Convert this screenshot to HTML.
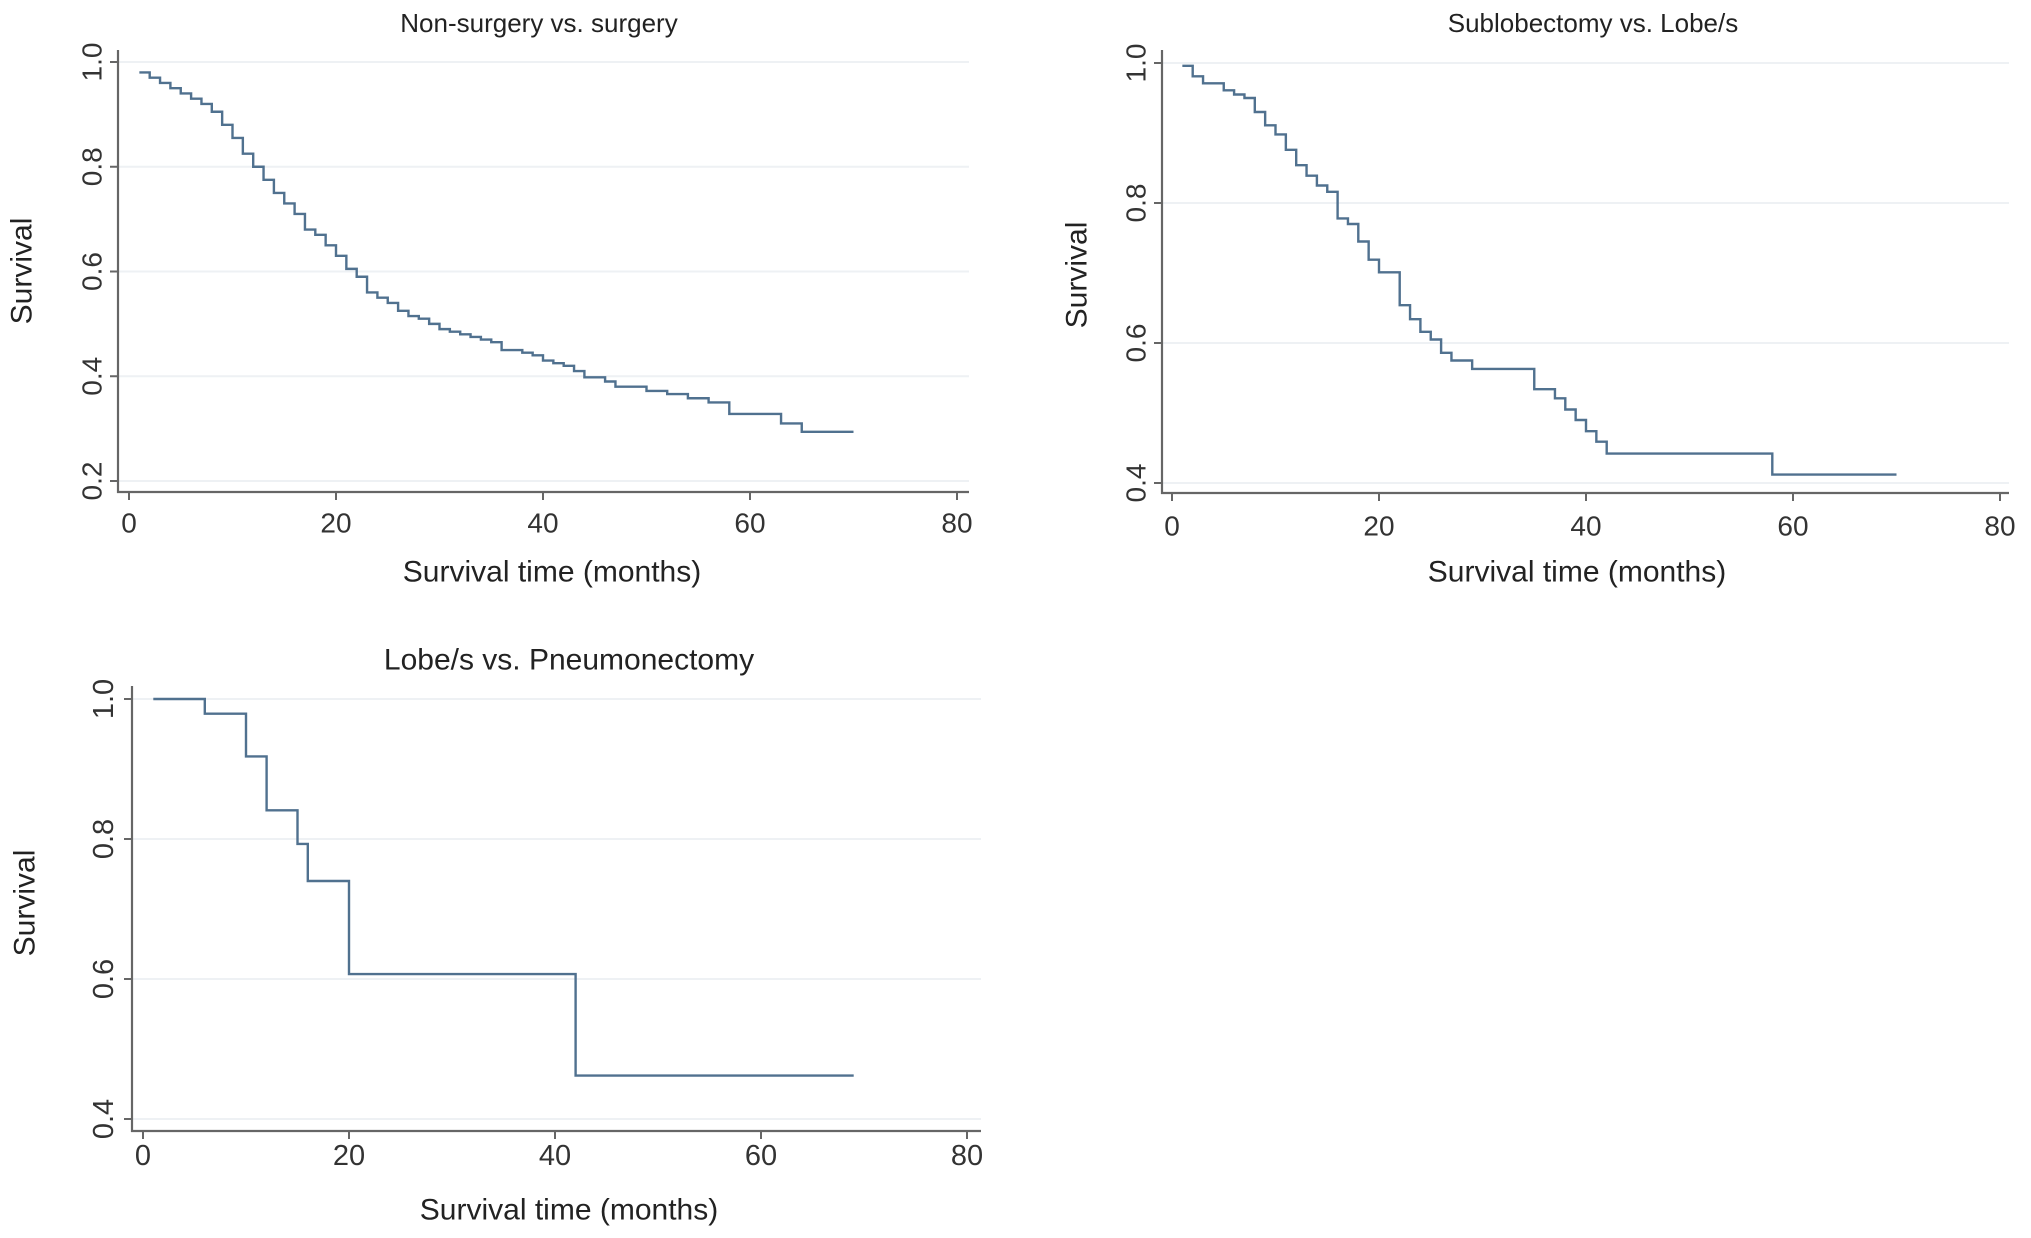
<!DOCTYPE html>
<html><head><meta charset="utf-8"><style>
html,body{margin:0;padding:0;background:#fff;}
svg{display:block;font-family:"Liberation Sans",Arial,sans-serif;}
</style></head><body>
<svg id="fig" width="2031" height="1238" viewBox="0 0 2031 1238"></svg>
<script>
// Panel 1: Non-surgery vs. surgery
const p1Times = [1,2,3,4,5,6,7,8,9,10,11,12,13,14,15,16,17,18,19,20,21,22,23,24,25,26,27,28,29,30,31,32,33,34,35,36,38,39,40,41,42,43,44,46,47,50,52,54,56,58,63,65,70];
const p1Surv  = [0.98,0.97,0.96,0.95,0.94,0.93,0.92,0.905,0.88,0.855,0.825,0.80,0.775,0.75,0.73,0.71,0.68,0.67,0.65,0.63,0.605,0.59,0.56,0.55,0.54,0.525,0.515,0.51,0.50,0.49,0.485,0.48,0.475,0.47,0.465,0.45,0.445,0.44,0.43,0.425,0.42,0.41,0.398,0.39,0.38,0.372,0.366,0.358,0.35,0.328,0.31,0.294,0.294];
const p1YTicks = [0.2,0.4,0.6,0.8,1.0];
// Panel 2: Sublobectomy vs. Lobe/s
const p2Times = [1,2,3,5,6,7,8,9,10,11,12,13,14,15,16,17,18,19,20,22,23,24,25,26,27,29,35,37,38,39,40,41,42,58,70];
const p2Surv  = [0.996,0.981,0.971,0.961,0.955,0.950,0.930,0.911,0.898,0.876,0.854,0.839,0.825,0.816,0.778,0.770,0.745,0.719,0.701,0.654,0.634,0.616,0.605,0.586,0.575,0.563,0.534,0.521,0.505,0.490,0.474,0.459,0.442,0.412,0.412];
const p2YTicks = [0.4,0.6,0.8,1.0];
// Panel 3: Lobe/s vs. Pneumonectomy
const p3Times = [1,6,10,12,15,16,20,42,69];
const p3Surv  = [1.0,0.979,0.918,0.841,0.793,0.740,0.607,0.462,0.462];
const p3YTicks = [0.4,0.6,0.8,1.0];
const xTicks = [0,20,40,60,80];

const NS='http://www.w3.org/2000/svg';
const svg=document.getElementById('fig');
function mk(tag,attrs,parent){const e=document.createElementNS(NS,tag);for(const k in attrs)e.setAttribute(k,attrs[k]);(parent||svg).appendChild(e);return e;}

function panel(cfg){
  const g=mk('g',{});
  
  
  const sx=v=>cfg.x0+(v-0)*(cfg.x80-cfg.x0)/80;
  const sy=v=>cfg.yTop+(cfg.vTop-v)*(cfg.yBot-cfg.yTop)/(cfg.vTop-cfg.vBot);
  cfg.yTicks.forEach(t=>{
    const l=mk('line',{x1:cfg.axX,x2:cfg.right,y1:sy(t),y2:sy(t),stroke:'#eef1f4','stroke-width':2},g);
    
    
  });
  const ya=mk('line',{x1:cfg.axX,x2:cfg.axX,y1:cfg.axTop,y2:cfg.axY+1,stroke:'#666','stroke-width':2.2},g);
  
  
  const xa=mk('line',{x1:cfg.axX-1,x2:cfg.right,y1:cfg.axY,y2:cfg.axY,stroke:'#666','stroke-width':2.2},g);
  
  
  cfg.yTicks.forEach(t=>{
    mk('line',{x1:cfg.axX-8,x2:cfg.axX,y1:sy(t),y2:sy(t),stroke:'#666','stroke-width':2},g);
    const tx=mk('text',{x:0,y:0,transform:`translate(${cfg.ylabX},${sy(t)}) rotate(-90)`,'text-anchor':'middle','dominant-baseline':'central','font-size':cfg.tickFs,fill:'#333'},g);
    tx.textContent=t.toFixed(1);
    
    
  });
  xTicks.forEach(t=>{
    mk('line',{x1:sx(t),x2:sx(t),y1:cfg.axY,y2:cfg.axY+8,stroke:'#666','stroke-width':2},g);
    const tx=mk('text',{x:sx(t),y:cfg.xlabY,'text-anchor':'middle','dominant-baseline':'central','font-size':cfg.tickFs,fill:'#333'},g);
    tx.textContent=t;
    
    
  });
  let d=`M${sx(cfg.times[0])},${sy(cfg.surv[0])}`;
  for(let i=1;i<cfg.times.length;i++){
    d+=` H${sx(cfg.times[i])} V${sy(cfg.surv[i])}`;
  }
  const p=mk('path',{d:d,fill:'none',stroke:'#50718f','stroke-width':2.4},g);
  
  
  const ti=mk('text',{x:cfg.titleX,y:cfg.titleY,'text-anchor':'middle','dominant-baseline':'central','font-size':cfg.titleFs,fill:'#222'},g);
  ti.textContent=cfg.title;
  
  
  const xt=mk('text',{x:cfg.xtX,y:cfg.xtY,'text-anchor':'middle','dominant-baseline':'central','font-size':30,fill:'#222'},g);
  xt.textContent='Survival time (months)';
  
  
  const yt=mk('text',{x:0,y:0,transform:`translate(${cfg.ytX},${cfg.ytY}) rotate(-90)`,'text-anchor':'middle','dominant-baseline':'central','font-size':30,fill:'#222'},g);
  yt.textContent='Survival';
  
  
}

panel({name:'panel-non-surgery-vs-surgery',title:'Non-surgery vs. surgery',times:p1Times,surv:p1Surv,yTicks:p1YTicks,
  x0:129,x80:957,vTop:1.0,vBot:0.2,yTop:62,yBot:481,axX:118,axY:492,axTop:50,right:969,titleFs:26,tickFs:28,
  ylabX:92,xlabY:523,titleX:539,titleY:23,xtX:552,xtY:572,ytX:22,ytY:271});
panel({name:'panel-sublobectomy-vs-lobes',title:'Sublobectomy vs. Lobe/s',times:p2Times,surv:p2Surv,yTicks:p2YTicks,
  x0:1172,x80:2000,vTop:1.0,vBot:0.4,yTop:63,yBot:483,axX:1162,axY:493,axTop:50,right:2009,titleFs:26,tickFs:28,
  ylabX:1136,xlabY:526,titleX:1593,titleY:23,xtX:1577,xtY:572,ytX:1077,ytY:275});
panel({name:'panel-lobes-vs-pneumonectomy',title:'Lobe/s vs. Pneumonectomy',times:p3Times,surv:p3Surv,yTicks:p3YTicks,
  x0:143,x80:967,vTop:1.0,vBot:0.4,yTop:699,yBot:1119,axX:132,axY:1131,axTop:686,right:981,titleFs:30,tickFs:29,
  ylabX:104,xlabY:1156,titleX:569,titleY:660,xtX:569,xtY:1210,ytX:25,ytY:903});
</script>
</body></html>
